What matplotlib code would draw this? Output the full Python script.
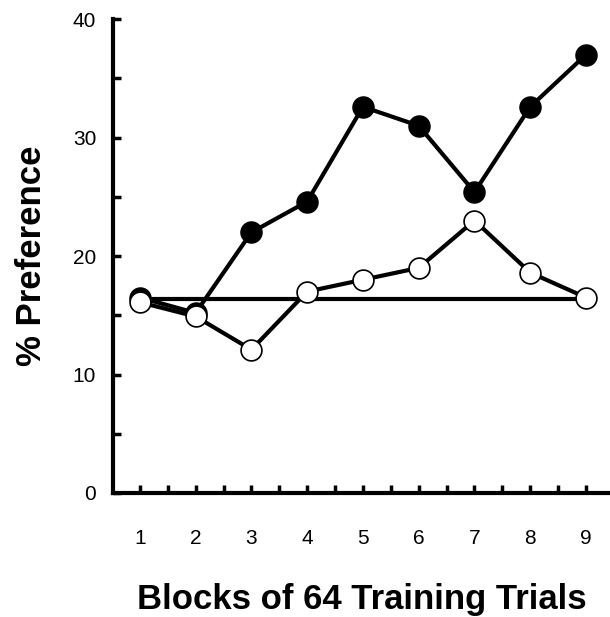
import matplotlib
matplotlib.use("Agg")
import matplotlib.pyplot as plt
import numpy as np

# Data
blocks = [1, 2, 3, 4, 5, 6, 7, 8, 9]
filled_pref = [16.5, 15.2, 22.0, 24.6, 32.6, 31.0, 25.4, 32.6, 37.0]
open_pref = [16.1, 14.9, 12.1, 17.0, 18.0, 19.0, 23.0, 18.6, 16.5]
chance_level = 16.4
y_ticks = [0, 10, 20, 30, 40]

plt.rcParams['font.family'] = ['Liberation Sans', 'DejaVu Sans']

fig = plt.figure(figsize=(6.10, 6.17), dpi=100)
ax = fig.add_axes([0.185, 0.201, 0.815, 0.768])

# chance line
ax.plot([blocks[0], blocks[-1]], [chance_level, chance_level], color='black', lw=3, zorder=2)

ax.plot(blocks, filled_pref, color='black', lw=3.0, marker='o', markersize=15,
        markerfacecolor='black', markeredgecolor='black', markeredgewidth=1.2, zorder=3)
ax.plot(blocks, open_pref, color='black', lw=3.0, marker='o', markersize=15,
        markerfacecolor='white', markeredgecolor='black', markeredgewidth=1.2, zorder=4)

ax.set_xlim(0.516, 9.43)
ax.set_ylim(0, 40)

ax.set_xticks(blocks)
ax.set_xticks(np.arange(1.5, 9, 1.0), minor=True)
ax.set_yticks(y_ticks)
ax.set_yticks([5, 15, 25, 35], minor=True)

for side in ['top', 'right']:
    ax.spines[side].set_visible(False)
for side in ['left', 'bottom']:
    ax.spines[side].set_linewidth(3)

ax.tick_params(axis='both', which='both', direction='in', length=6, width=2.5, color='black')
ax.tick_params(axis='x', which='major', pad=26, labelsize=15)
ax.tick_params(axis='y', which='major', pad=12, labelsize=15)

ax.set_xlabel('Blocks of 64 Training Trials', fontsize=25, fontweight='bold', labelpad=25)
ax.set_ylabel('% Preference', fontsize=25, fontweight='bold', labelpad=18)

fig.savefig('out.png', dpi=100)
